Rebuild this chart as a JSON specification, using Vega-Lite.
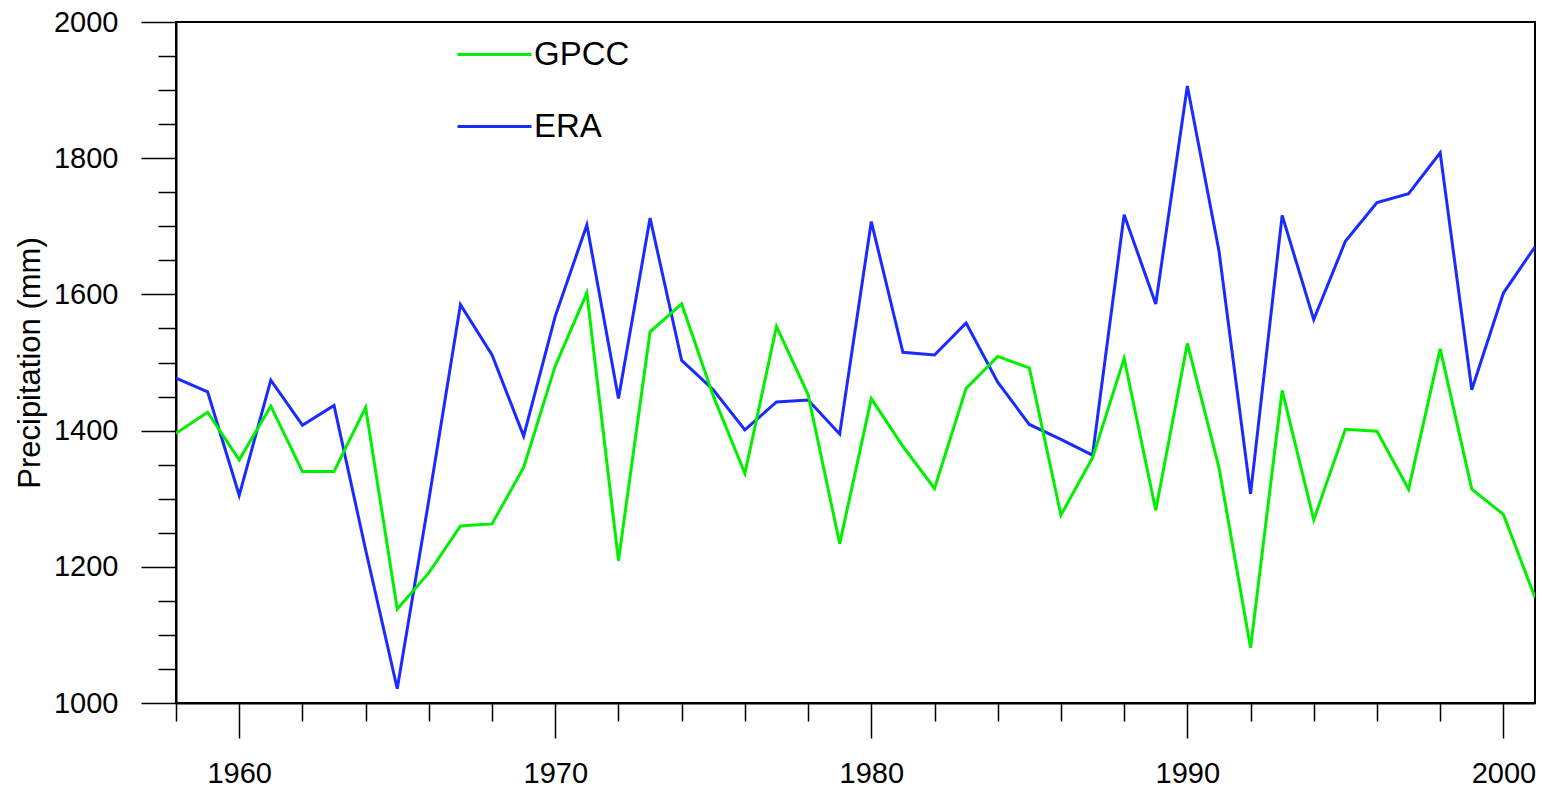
{
  "$schema": "https://vega.github.io/schema/vega-lite/v6.json",
  "width": 1359,
  "height": 681,
  "autosize": {"type": "none"},
  "padding": {"left": 176, "top": 22, "right": 7, "bottom": 87},
  "background": "white",
  "config": {
    "view": {"stroke": "black", "strokeWidth": 2},
    "font": "Liberation Sans"
  },
  "data": {
    "values": [
      {"year": 1958, "source": "ERA", "value": 1477},
      {"year": 1959, "source": "ERA", "value": 1457},
      {"year": 1960, "source": "ERA", "value": 1305},
      {"year": 1961, "source": "ERA", "value": 1474},
      {"year": 1962, "source": "ERA", "value": 1408},
      {"year": 1963, "source": "ERA", "value": 1437},
      {"year": 1964, "source": "ERA", "value": 1225},
      {"year": 1965, "source": "ERA", "value": 1021},
      {"year": 1966, "source": "ERA", "value": 1298},
      {"year": 1967, "source": "ERA", "value": 1585},
      {"year": 1968, "source": "ERA", "value": 1511},
      {"year": 1969, "source": "ERA", "value": 1392},
      {"year": 1970, "source": "ERA", "value": 1568},
      {"year": 1971, "source": "ERA", "value": 1702},
      {"year": 1972, "source": "ERA", "value": 1447},
      {"year": 1973, "source": "ERA", "value": 1712},
      {"year": 1974, "source": "ERA", "value": 1503},
      {"year": 1975, "source": "ERA", "value": 1460},
      {"year": 1976, "source": "ERA", "value": 1401},
      {"year": 1977, "source": "ERA", "value": 1442},
      {"year": 1978, "source": "ERA", "value": 1445},
      {"year": 1979, "source": "ERA", "value": 1395},
      {"year": 1980, "source": "ERA", "value": 1707},
      {"year": 1981, "source": "ERA", "value": 1515},
      {"year": 1982, "source": "ERA", "value": 1511},
      {"year": 1983, "source": "ERA", "value": 1558},
      {"year": 1984, "source": "ERA", "value": 1471},
      {"year": 1985, "source": "ERA", "value": 1409},
      {"year": 1986, "source": "ERA", "value": 1387},
      {"year": 1987, "source": "ERA", "value": 1364},
      {"year": 1988, "source": "ERA", "value": 1717},
      {"year": 1989, "source": "ERA", "value": 1586},
      {"year": 1990, "source": "ERA", "value": 1906},
      {"year": 1991, "source": "ERA", "value": 1664},
      {"year": 1992, "source": "ERA", "value": 1307},
      {"year": 1993, "source": "ERA", "value": 1716},
      {"year": 1994, "source": "ERA", "value": 1563},
      {"year": 1995, "source": "ERA", "value": 1678},
      {"year": 1996, "source": "ERA", "value": 1735},
      {"year": 1997, "source": "ERA", "value": 1748},
      {"year": 1998, "source": "ERA", "value": 1808},
      {"year": 1999, "source": "ERA", "value": 1460},
      {"year": 2000, "source": "ERA", "value": 1602},
      {"year": 2001, "source": "ERA", "value": 1670},
      {"year": 1958, "source": "GPCC", "value": 1396},
      {"year": 1959, "source": "GPCC", "value": 1427},
      {"year": 1960, "source": "GPCC", "value": 1357},
      {"year": 1961, "source": "GPCC", "value": 1436},
      {"year": 1962, "source": "GPCC", "value": 1340},
      {"year": 1963, "source": "GPCC", "value": 1340},
      {"year": 1964, "source": "GPCC", "value": 1434},
      {"year": 1965, "source": "GPCC", "value": 1138},
      {"year": 1966, "source": "GPCC", "value": 1191},
      {"year": 1967, "source": "GPCC", "value": 1260},
      {"year": 1968, "source": "GPCC", "value": 1263},
      {"year": 1969, "source": "GPCC", "value": 1346},
      {"year": 1970, "source": "GPCC", "value": 1495},
      {"year": 1971, "source": "GPCC", "value": 1602},
      {"year": 1972, "source": "GPCC", "value": 1209},
      {"year": 1973, "source": "GPCC", "value": 1545},
      {"year": 1974, "source": "GPCC", "value": 1586},
      {"year": 1975, "source": "GPCC", "value": 1451},
      {"year": 1976, "source": "GPCC", "value": 1337},
      {"year": 1977, "source": "GPCC", "value": 1553},
      {"year": 1978, "source": "GPCC", "value": 1453},
      {"year": 1979, "source": "GPCC", "value": 1234},
      {"year": 1980, "source": "GPCC", "value": 1447},
      {"year": 1981, "source": "GPCC", "value": 1377},
      {"year": 1982, "source": "GPCC", "value": 1315},
      {"year": 1983, "source": "GPCC", "value": 1462},
      {"year": 1984, "source": "GPCC", "value": 1509},
      {"year": 1985, "source": "GPCC", "value": 1492},
      {"year": 1986, "source": "GPCC", "value": 1276},
      {"year": 1987, "source": "GPCC", "value": 1360},
      {"year": 1988, "source": "GPCC", "value": 1506},
      {"year": 1989, "source": "GPCC", "value": 1283},
      {"year": 1990, "source": "GPCC", "value": 1528},
      {"year": 1991, "source": "GPCC", "value": 1346},
      {"year": 1992, "source": "GPCC", "value": 1081},
      {"year": 1993, "source": "GPCC", "value": 1459},
      {"year": 1994, "source": "GPCC", "value": 1269},
      {"year": 1995, "source": "GPCC", "value": 1402},
      {"year": 1996, "source": "GPCC", "value": 1399},
      {"year": 1997, "source": "GPCC", "value": 1314},
      {"year": 1998, "source": "GPCC", "value": 1520},
      {"year": 1999, "source": "GPCC", "value": 1314},
      {"year": 2000, "source": "GPCC", "value": 1277},
      {"year": 2001, "source": "GPCC", "value": 1155}
    ]
  },
  "mark": {"type": "line", "strokeWidth": 3, "clip": true},
  "encoding": {
    "x": {
      "field": "year",
      "type": "quantitative",
      "scale": {"domain": [1958, 2001], "nice": false, "zero": false},
      "axis": {
        "title": null,
        "values": [1958, 1960, 1962, 1964, 1966, 1968, 1970, 1972, 1974, 1976, 1978, 1980, 1982, 1984, 1986, 1988, 1990, 1992, 1994, 1996, 1998, 2000],
        "format": "d",
        "labelExpr": "datum.value % 10 === 0 ? datum.label : ''",
        "tickSize": {"condition": {"test": "datum.value % 10 === 0", "value": 35}, "value": 18},
        "tickColor": "black",
        "tickWidth": 1.5,
        "domainColor": "black",
        "domainWidth": 2,
        "labelFontSize": 29,
        "labelColor": "black",
        "labelPadding": 21,
        "labelFlush": false,
        "labelOverlap": false,
        "grid": false
      }
    },
    "y": {
      "field": "value",
      "type": "quantitative",
      "scale": {"domain": [1000, 2000], "nice": false, "zero": false},
      "axis": {
        "title": "Precipitation (mm)",
        "titleFontSize": 31,
        "titleFontWeight": "normal",
        "titleColor": "black",
        "titleX": -137,
        "titleY": 340.5,
        "titleAngle": -90,
        "titleAlign": "center",
        "titleBaseline": "alphabetic",
        "values": [1000, 1050, 1100, 1150, 1200, 1250, 1300, 1350, 1400, 1450, 1500, 1550, 1600, 1650, 1700, 1750, 1800, 1850, 1900, 1950, 2000],
        "format": "d",
        "labelExpr": "datum.value % 200 === 0 ? datum.label : ''",
        "tickSize": {"condition": {"test": "datum.value % 200 === 0", "value": 35}, "value": 18},
        "tickColor": "black",
        "tickWidth": 1.5,
        "domainColor": "black",
        "domainWidth": 2,
        "labelFontSize": 29,
        "labelColor": "black",
        "labelPadding": 23,
        "labelFlush": false,
        "labelOverlap": false,
        "grid": false
      }
    },
    "color": {
      "field": "source",
      "type": "nominal",
      "scale": {"domain": ["GPCC", "ERA"], "range": ["#00f000", "#1a2bff"]},
      "legend": {
        "orient": "none",
        "legendX": 280,
        "legendY": -6,
        "title": null,
        "symbolType": "stroke",
        "symbolSize": 5476,
        "symbolStrokeWidth": 3,
        "labelFontSize": 33,
        "labelColor": "black",
        "labelOffset": 1,
        "rowPadding": 16,
        "padding": 0,
        "direction": "vertical"
      }
    }
  }
}
